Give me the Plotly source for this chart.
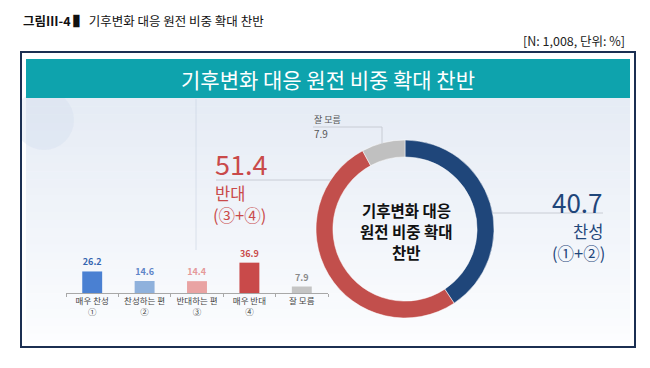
import plotly.graph_objects as go

W, H = 650, 368
FONT = "Noto Sans CJK KR"

# ---- data ----
bar_categories = ["매우 찬성<br>①", "찬성하는 편<br>②", "반대하는 편<br>③", "매우 반대<br>④", "잘 모름"]
bar_values = [26.2, 14.6, 14.4, 36.9, 7.9]
bar_colors = ["#4a80d2", "#8fb1dc", "#e9a3a3", "#c94a4a", "#c4c4c4"]
bar_text_colors = ["#3565b0", "#5f86c8", "#e59a9a", "#c94a4a", "#8a8a8a"]

donut_labels = ["찬성", "반대", "잘 모름"]
donut_values = [40.7, 51.4, 7.9]
donut_colors = ["#1f467a", "#c24f4c", "#c0c0c0"]

center_lines = ["기후변화 대응", "원전 비중 확대", "찬반"]


def px(x):
    return x / W


def py(y):
    return 1 - y / H


fig = go.Figure()

fig.add_trace(go.Bar(
    x=bar_categories, y=bar_values,
    marker=dict(color=bar_colors, line=dict(width=0)),
    width=0.38,
    text=[f"{v:.1f}" for v in bar_values],
    textposition="outside",
    textfont=dict(family=FONT, size=9, color=bar_text_colors, weight="bold"),
    cliponaxis=False,
    hoverinfo="skip",
    xaxis="x", yaxis="y",
))

fig.add_trace(go.Pie(
    labels=donut_labels, values=donut_values,
    marker=dict(colors=donut_colors, line=dict(color="#ffffff", width=0.5)),
    hole=0.81, sort=False, direction="clockwise", rotation=0,
    textinfo="none", hoverinfo="skip", showlegend=False,
    domain=dict(x=[px(316), px(494)], y=[py(318), py(140)]),
))

shapes = []
# background gradient panel
top, bot = 98, 342
n = 30
c0 = (230, 236, 245)
c1 = (252, 253, 255)
for i in range(n):
    t = i / (n - 1)
    r = int(c0[0] + (c1[0] - c0[0]) * t)
    g = int(c0[1] + (c1[1] - c0[1]) * t)
    b = int(c0[2] + (c1[2] - c0[2]) * t)
    y0 = top + (bot - top) * i / n
    y1 = top + (bot - top) * (i + 1) / n + 0.5
    shapes.append(dict(type="rect", xref="paper", yref="paper",
                       x0=px(26), x1=px(630), y0=py(y1), y1=py(y0),
                       fillcolor=f"rgb({r},{g},{b})", line=dict(width=0), layer="below"))
# faint decorative circle top-left (inside the panel)
shapes.append(dict(type="circle", xref="paper", yref="paper",
                   x0=px(14), x1=px(74), y0=py(150), y1=py(90),
                   fillcolor="rgba(210,222,238,0.35)", line=dict(width=0), layer="below"))
# mask outside panel on the left
shapes.append(dict(type="rect", xref="paper", yref="paper",
                   x0=0, x1=px(21), y0=py(160), y1=py(80),
                   fillcolor="#ffffff", line=dict(width=0), layer="below"))
# faint vertical separator
shapes.append(dict(type="line", xref="paper", yref="paper",
                   x0=px(196), x1=px(196), y0=py(250), y1=py(99),
                   line=dict(color="rgba(200,210,225,0.6)", width=1), layer="below"))
# teal header
shapes.append(dict(type="rect", xref="paper", yref="paper",
                   x0=px(26), x1=px(630), y0=py(98), y1=py(59),
                   fillcolor="#0ea3ad", line=dict(width=0), layer="below"))
# outer border
shapes.append(dict(type="rect", xref="paper", yref="paper",
                   x0=px(21), x1=px(635), y0=py(347), y1=py(52),
                   fillcolor="rgba(0,0,0,0)", line=dict(color="#1b2f52", width=2)))
# 51.4 underline
shapes.append(dict(type="line", xref="paper", yref="paper",
                   x0=px(216), x1=px(331), y0=py(180), y1=py(180),
                   line=dict(color="#c8ccd4", width=1)))
# 40.7 underline
shapes.append(dict(type="line", xref="paper", yref="paper",
                   x0=px(493), x1=px(603), y0=py(213), y1=py(213),
                   line=dict(color="#c8ccd4", width=1)))
# 잘 모름 bracket
shapes.append(dict(type="path", xref="paper", yref="paper",
                   path=f"M {px(313)},{py(127)} L {px(382)},{py(127)} L {px(382)},{py(144)}",
                   line=dict(color="#c8ccd4", width=1)))

annotations = []


def ann(text, x, y, size, color, xanchor="left", weight="normal", family=FONT, align="left"):
    annotations.append(dict(text=text, x=px(x), y=py(y), xref="paper", yref="paper",
                            xanchor=xanchor, yanchor="middle", showarrow=False, align=align,
                            borderpad=0,
                            font=dict(family=family, size=size, color=color, weight=weight)))


ann("<b>그림Ⅲ-4 ▌</b> 기후변화 대응 원전 비중 확대 찬반", 22, 21, 12.5, "#111111")
ann("[N: 1,008, 단위: %]", 626, 40, 12.5, "#222222", xanchor="right")
ann("기후변화 대응 원전 비중 확대 찬반", 328, 79, 21, "#ffffff", xanchor="center")

ann("51.4", 214, 163, 27, "#c94a4a")
ann("반대", 214, 193, 16.5, "#c94a4a")
ann("(③+④)", 212, 215, 16.5, "#c94a4a")

ann("잘 모름", 313, 119, 9, "#555555")
ann("7.9", 313, 134, 10, "#555555")

ann("40.7", 604, 201, 26, "#1f467a", xanchor="right")
ann("찬성", 604, 231, 16.5, "#1f467a", xanchor="right")
ann("(①+②)", 606, 253, 16.5, "#1f467a", xanchor="right")

for i, line in enumerate(center_lines):
    ann(line, 406, 210 + 21 * i, 15.5, "#111111", xanchor="center", weight="bold")

fig.update_layout(
    width=W, height=H,
    margin=dict(l=0, r=0, t=0, b=0),
    paper_bgcolor="#ffffff", plot_bgcolor="rgba(0,0,0,0)",
    showlegend=False,
    shapes=shapes, annotations=annotations,
    xaxis=dict(domain=[px(66), px(328)], anchor="y", showgrid=False, zeroline=False,
               showline=True, linecolor="#a8a8a8", linewidth=1,
               ticks="outside", tickson="boundaries", ticklen=3, tickcolor="#a8a8a8",
               tickangle=0,
               tickfont=dict(family=FONT, size=8.5, color="#444444"), fixedrange=True),
    yaxis=dict(domain=[py(293), py(256)], anchor="x", range=[0, 45], visible=False,
               showgrid=False, fixedrange=True),
    bargap=0.6,
)

fig.write_html(
    "out.html",
    config={"displayModeBar": False},
    post_script="document.body.style.margin='0';document.body.style.overflow='hidden';",
)
